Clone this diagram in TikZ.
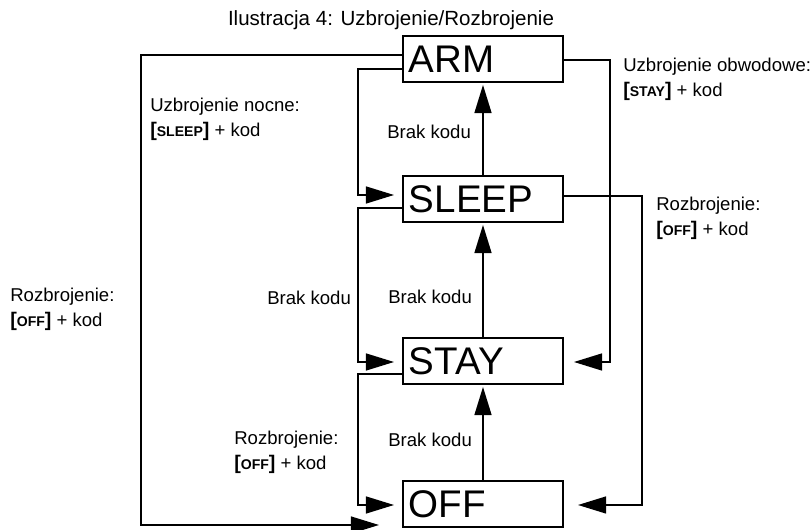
\documentclass[tikz,border=0pt]{standalone}
\usepackage{fontspec}
\setmainfont{Liberation Sans}
\usetikzlibrary{arrows.meta}

\newcommand{\klaw}[1]{{\bfseries\fontsize{14}{14}\selectfont[}{\bfseries\fontsize{10}{10}\selectfont #1}{\bfseries\fontsize{14}{14}\selectfont]}}

\begin{document}
\begin{tikzpicture}[x=0.025cm,y=-0.025cm,
  stan/.style={draw,line width=1.3pt,minimum height=1.15cm,text width=3.7cm,
    inner xsep=0.15cm,inner ysep=0pt,align=left,
    font=\fontsize{27.4}{28}\selectfont},
  opis/.style={anchor=west,inner sep=0pt,align=left,
    font=\fontsize{13.2}{17.8}\selectfont},
  pol/.style={line width=1.3pt,-{Triangle[length=20pt,width=12pt]}}]
\useasboundingbox (0,0) rectangle (812,530);
\node[inner sep=0pt,font=\fontsize{14.6}{16}\selectfont] (tytul) at (391,20) {Ilustracja 4: Uzbrojenie/Rozbrojenie};
\node[stan] (arm) at (483,59) {ARM};
\node[stan] (sleep) at (483,199) {SLEEP};
\node[stan] (stay) at (483,361) {STAY};
\node[stan] (off) at (483,504) {OFF};

\draw[pol,shorten >=1.4pt] (sleep) -- (arm);
\draw[pol,shorten >=1.4pt] (stay) -- (sleep);
\draw[pol,shorten >=1.4pt] (off) -- (stay);

\draw[pol,shorten >=5.7pt] (arm.west |- 0,69) -| (358,195) -- (sleep.west |- 0,195);
\draw[pol,shorten >=5.7pt] (sleep.west |- 0,208) -| (358,362) -- (stay.west |- 0,362);
\draw[pol,shorten >=5.7pt] (stay.west |- 0,374) -| (358,505) -- (off.west |- 0,505);
\draw[pol,shorten >=16.4pt] (arm.west |- 0,55) -| (141,525) -- (off.west |- 0,525);
\draw[pol,shorten >=7.1pt] (arm.east |- 0,60) -| (610,362) -- (stay.east |- 0,362);
\draw[pol,shorten >=10pt] (sleep.east |- 0,196) -| (642,505) -- (off.east |- 0,505);

\node[opis] (nocne) at (150,119.5) {Uzbrojenie nocne:\\\klaw{SLEEP} + kod};
\node[opis] (brak1) at (387,132) {Brak kodu};
\node[opis] (obwod) at (623,79.5) {Uzbrojenie obwodowe:\\\klaw{STAY} + kod};
\node[opis] (rozb1) at (656,218.5) {Rozbrojenie:\\\klaw{OFF} + kod};
\node[opis] (rozb2) at (10,309) {Rozbrojenie:\\\klaw{OFF} + kod};
\node[opis] (brak2) at (267,298) {Brak kodu};
\node[opis] (brak3) at (388,297) {Brak kodu};
\node[opis] (rozb3) at (234,452) {Rozbrojenie:\\\klaw{OFF} + kod};
\node[opis] (brak4) at (388,440) {Brak kodu};
\end{tikzpicture}
\end{document}
